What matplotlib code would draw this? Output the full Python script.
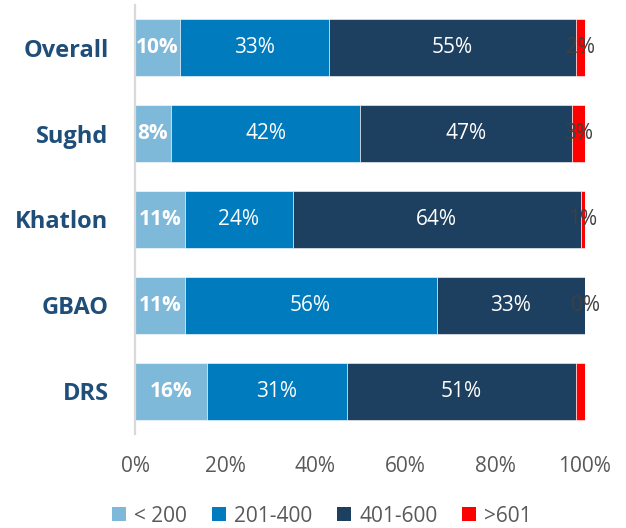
import matplotlib.pyplot as plt
from matplotlib.patches import Patch

regions = ["Overall", "Sughd", "Khatlon", "GBAO", "DRS"]
series_names = ["< 200", "201-400", "401-600", ">601"]
below_200 = [10, 8, 11, 11, 16]
from_201_to_400 = [33, 42, 24, 56, 31]
from_401_to_600 = [55, 47, 64, 33, 51]
above_601 = [2, 3, 1, 0, 2]
show_above_601_label = [True, True, True, True, False]
x_ticks = [0, 20, 40, 60, 80, 100]

colors = ["#7FB9DA", "#007BBD", "#1D3F60", "#FF0000"]
label_colors = ["white", "white", "white", "#404040"]
label_weights = ["bold", "normal", "normal", "normal"]

plt.rcParams["font.family"] = ["Open Sans", "DejaVu Sans"]

fig = plt.figure(figsize=(6.26, 5.28), dpi=100)
ax = fig.add_axes([135 / 626, 1 - 434 / 528, 450 / 626, 429 / 528])

series = [below_200, from_201_to_400, from_401_to_600, above_601]
y = list(range(len(regions)))
left = [0] * len(regions)
for k, vals in enumerate(series):
    ax.barh(y, vals, left=left, height=0.665, color=colors[k],
            edgecolor="white", linewidth=0.4)
    for i, v in enumerate(vals):
        show = show_above_601_label[i] if k == 3 else True
        if show:
            ax.text(left[i] + v / 2, i, f"{v}%", ha="center", va="center",
                    color=label_colors[k], fontsize=15,
                    fontweight=label_weights[k])
    left = [l + v for l, v in zip(left, vals)]

ax.set_xlim(0, 100)
ax.set_ylim(len(regions) - 0.5, -0.5)
ax.set_xticks(x_ticks)
ax.set_xticklabels([f"{t}%" for t in x_ticks], fontsize=15, color="#595959")
ax.set_yticks(y)
ax.set_yticklabels(regions, fontsize=17, fontweight="bold", color="#1F4E79")
ax.tick_params(axis="both", length=0)
ax.tick_params(axis="x", pad=16)
ax.tick_params(axis="y", pad=19)
for side in ["top", "right", "bottom"]:
    ax.spines[side].set_visible(False)
ax.spines["left"].set_color("#D9D9D9")
ax.spines["left"].set_linewidth(1.6)

handles = [Patch(facecolor=c, edgecolor="none") for c in colors]
fig.legend(handles, series_names, loc="center", bbox_to_anchor=(322 / 626, 1 - 516 / 528),
           ncol=4, frameon=False, fontsize=15, handlelength=0.65, handleheight=0.65,
           handletextpad=0.4, columnspacing=1.2, labelcolor="#595959")

fig.savefig("out.png", dpi=100)
